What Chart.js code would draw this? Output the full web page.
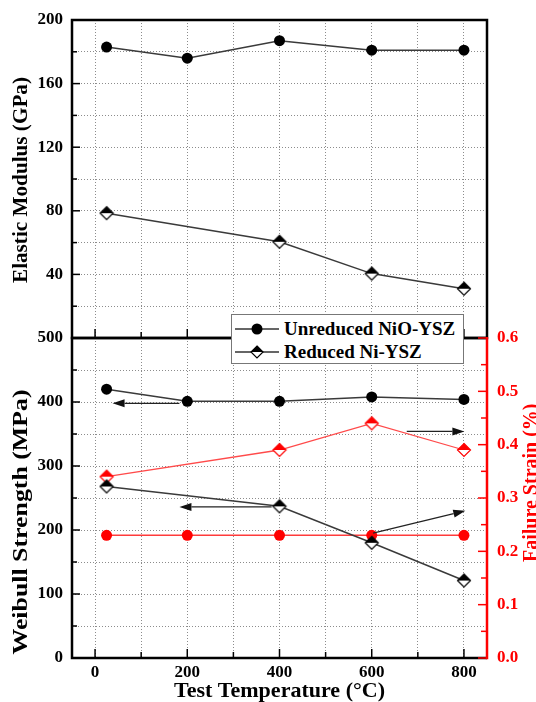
<!DOCTYPE html>
<html>
<head>
<meta charset="utf-8">
<script src="https://cdn.jsdelivr.net/npm/chart.js@4.4.1/dist/chart.umd.min.js"></script>
<style>
  body { margin: 0; background: #fff; }
  #wrap { position: relative; width: 536px; height: 702px; overflow: hidden; }
  #wrap canvas { position: absolute; left: 0; top: 0; }
  #legend {
    position: absolute; left: 231px; top: 314px; width: 231px; height: 48px;
    background: #fff; border: 1px solid #777;
    font: bold 19px "Liberation Serif", "Times New Roman", serif; color: #000;
    white-space: nowrap;
  }
  #legend .row { position: absolute; left: 3px; height: 24px; display: flex; align-items: center; }
  #legend svg { margin-right: 5px; flex: none; }
</style>
</head>
<body>
<div id="wrap">
  <canvas id="topChart" width="536" height="702"></canvas>
  <canvas id="bottomChart" width="536" height="702"></canvas>
  <div id="legend">
    <div class="row" style="top:2px">
      <svg width="44" height="14"><line x1="0" y1="7" x2="44" y2="7" stroke="#333" stroke-width="1.5"/><circle cx="22" cy="7" r="5.5" fill="#000"/></svg>
      <span>Unreduced NiO-YSZ</span>
    </div>
    <div class="row" style="top:25px">
      <svg width="44" height="16"><line x1="0" y1="8" x2="44" y2="8" stroke="#333" stroke-width="1.5"/><path d="M22 2 L28 8 L22 14 L16 8 Z" fill="#fff" stroke="#000" stroke-width="1.2"/><path d="M22 2 L28 8 L16 8 Z" fill="#000"/></svg>
      <span>Reduced Ni-YSZ</span>
    </div>
  </div>
</div>
<script>
// test temperatures (°C)
const temps = [25, 200, 400, 600, 800];
const tempsReduced = [25, 400, 600, 800];

// elastic modulus (GPa)
const modulusUnreduced = [183, 176, 187, 181, 181];
const modulusReduced = [78.5, 60.5, 40.5, 31];

// weibull strength (MPa)
const strengthUnreduced = [420, 401, 401, 408, 404];
const strengthReduced = [268, 237, 180, 121];

// failure strain (%)
const strainUnreduced = [0.23, 0.23, 0.23, 0.23, 0.23];
const strainReduced = [0.34, 0.39, 0.44, 0.39];

// tick positions and the ones that carry a label
const xTicks = [0, 100, 200, 300, 400, 500, 600, 700, 800];
const xLabels = [0, 200, 400, 600, 800];
const modulusLabels = [40, 80, 120, 160, 200];
const strengthLabels = [0, 100, 200, 300, 400, 500];
const strainLabels = [0, 0.1, 0.2, 0.3, 0.4, 0.5, 0.6];

// arrows in (temperature, strength) units: x1, y1 -> x2, y2
const arrows = [
  [183, 398, 38, 398],
  [383, 236, 183, 236],
  [676, 354, 801, 354],
  [603, 195, 803, 230]
];

const SERIF = '"Liberation Serif", "Times New Roman", serif';
Chart.defaults.font.family = SERIF;
Chart.defaults.font.weight = 'bold';
Chart.defaults.font.size = 17;
Chart.defaults.color = '#000';

const pts = (xs, ys) => xs.map((x, i) => ({ x: x, y: ys[i] }));
const hasLabel = (list, v) => list.some(l => Math.abs(l - v) < 1e-6);

function halfDiamond(color, r) {
  const c = document.createElement('canvas');
  const s = Math.ceil(2 * r + 3);
  c.width = s; c.height = s;
  const g = c.getContext('2d');
  const m = s / 2;
  g.beginPath();
  g.moveTo(m, m - r); g.lineTo(m + r, m); g.lineTo(m, m + r); g.lineTo(m - r, m); g.closePath();
  g.fillStyle = '#fff'; g.fill();
  g.beginPath();
  g.moveTo(m, m - r); g.lineTo(m + r, m); g.lineTo(m - r, m); g.closePath();
  g.fillStyle = color; g.fill();
  g.beginPath();
  g.moveTo(m, m - r); g.lineTo(m + r, m); g.lineTo(m, m + r); g.lineTo(m - r, m); g.closePath();
  g.lineWidth = 1.2; g.strokeStyle = color; g.stroke();
  return c;
}
const diamondBlack = halfDiamond('#000', 6.5);
const diamondRed = halfDiamond('#ff0000', 6.5);

// text along the axis, stretched to the length it has in the picture
function axisText(ctx, text, x, y, rot, len, color, size) {
  ctx.save();
  ctx.font = 'bold ' + size + 'px ' + SERIF;
  ctx.fillStyle = color;
  ctx.translate(x, y);
  ctx.rotate(rot);
  const w = ctx.measureText(text).width;
  if (len) ctx.scale(len / w, 1);
  ctx.textAlign = 'center';
  ctx.textBaseline = 'middle';
  ctx.fillText(text, 0, 0);
  ctx.restore();
}

function tickRun(ctx, from, to, step, major, toPx, draw) {
  for (let v = from; v <= to + 1e-9; v += step) {
    const isMajor = Math.abs(Math.round(v / major) * major - v) < 1e-6;
    draw(toPx(v), isMajor ? 8 : 5);
  }
}

const gridOpts = { color: '#8c8c8c', lineWidth: 1, drawTicks: false };
const borderOpts = { display: false, dash: [1, 2] };

const topFrame = {
  id: 'topFrame',
  afterDraw(chart) {
    const { ctx, chartArea: a, scales } = chart;
    ctx.save();
    ctx.strokeStyle = '#000';
    ctx.lineWidth = 1.5;
    tickRun(ctx, 0, 200, 20, 40, v => scales.y.getPixelForValue(v), (p, l) => {
      ctx.beginPath(); ctx.moveTo(a.left, p); ctx.lineTo(a.left + l, p); ctx.stroke();
    });
    tickRun(ctx, 0, 800, 100, 200, v => scales.x.getPixelForValue(v), (p, l) => {
      ctx.beginPath(); ctx.moveTo(p, a.bottom); ctx.lineTo(p, a.bottom - l - 1); ctx.stroke();
    });
    ctx.lineWidth = 2.5;
    ctx.strokeRect(a.left, a.top, a.right - a.left, a.bottom - a.top);
    ctx.restore();
    axisText(ctx, 'Elastic Modulus (GPa)', 22, 180, -Math.PI / 2, 206, '#000', 21);
  }
};

const bottomFrame = {
  id: 'bottomFrame',
  afterDatasetsDraw(chart) {
    const { ctx, scales } = chart;
    const x = scales.x, y = scales.y;
    ctx.save();
    ctx.strokeStyle = '#222';
    ctx.fillStyle = '#111';
    ctx.lineWidth = 1.2;
    arrows.forEach(([x1, y1, x2, y2]) => {
      const p1 = [x.getPixelForValue(x1), y.getPixelForValue(y1)];
      const p2 = [x.getPixelForValue(x2), y.getPixelForValue(y2)];
      const ang = Math.atan2(p2[1] - p1[1], p2[0] - p1[0]);
      const hl = 12, hw = 4;
      const bx = p2[0] - hl * Math.cos(ang), by = p2[1] - hl * Math.sin(ang);
      ctx.beginPath(); ctx.moveTo(p1[0], p1[1]); ctx.lineTo(bx, by); ctx.stroke();
      ctx.beginPath();
      ctx.moveTo(p2[0], p2[1]);
      ctx.lineTo(bx + hw * Math.sin(ang), by - hw * Math.cos(ang));
      ctx.lineTo(bx - hw * Math.sin(ang), by + hw * Math.cos(ang));
      ctx.closePath(); ctx.fill();
    });
    ctx.restore();
  },
  afterDraw(chart) {
    const { ctx, chartArea: a, scales } = chart;
    ctx.save();
    ctx.strokeStyle = '#000';
    ctx.lineWidth = 1.5;
    tickRun(ctx, 0, 500, 50, 100, v => scales.y.getPixelForValue(v), (p, l) => {
      ctx.beginPath(); ctx.moveTo(a.left, p); ctx.lineTo(a.left + l, p); ctx.stroke();
    });
    tickRun(ctx, 0, 800, 100, 200, v => scales.x.getPixelForValue(v), (p, l) => {
      ctx.beginPath(); ctx.moveTo(p, a.bottom); ctx.lineTo(p, a.bottom - l - 1); ctx.stroke();
    });
    ctx.lineWidth = 2.5;
    ctx.beginPath();
    ctx.moveTo(a.right, a.top); ctx.lineTo(a.left, a.top); ctx.lineTo(a.left, a.bottom); ctx.lineTo(a.right, a.bottom);
    ctx.stroke();
    ctx.strokeStyle = '#ff0000';
    ctx.lineWidth = 1.5;
    tickRun(ctx, 0, 0.6, 0.05, 0.1, v => scales.y1.getPixelForValue(v), (p, l) => {
      ctx.beginPath(); ctx.moveTo(a.right, p); ctx.lineTo(a.right - l - 1, p); ctx.stroke();
    });
    ctx.lineWidth = 2.5;
    ctx.beginPath(); ctx.moveTo(a.right, a.top - 1); ctx.lineTo(a.right, a.bottom + 1.2); ctx.stroke();
    ctx.restore();

    axisText(ctx, 'Weibull Strength (MPa)', 22, 522, -Math.PI / 2, 265, '#000', 21);
    axisText(ctx, 'Test Temperature (°C)', (a.left + a.right) / 2, 692, 0, 211, '#000', 21);
    ctx.save();
    ctx.font = 'bold 20px ' + SERIF;
    ctx.fillStyle = '#ff0000';
    ctx.translate(537, 562);
    ctx.rotate(-Math.PI / 2);
    ctx.textAlign = 'left';
    ctx.textBaseline = 'alphabetic';
    ctx.fillText('Failure Strain (%)', 0, 0);
    ctx.restore();
  }
};

const xScale = (showLabels, height) => ({
  type: 'linear', min: -50, max: 850,
  grid: gridOpts, border: borderOpts,
  afterBuildTicks: s => { s.ticks = xTicks.map(v => ({ value: v })); },
  ticks: {
    display: showLabels, autoSkip: false, maxRotation: 0, padding: 4,
    callback: v => (hasLabel(xLabels, v) ? String(v) : '')
  },
  afterFit: s => { s.height = height; }
});

const common = {
  responsive: false,
  animation: false,
  devicePixelRatio: 1,
  plugins: { legend: { display: false }, tooltip: { enabled: false } }
};

new Chart(document.getElementById('topChart'), {
  type: 'line',
  data: {
    datasets: [
      {
        data: pts(temps, modulusUnreduced), borderColor: '#3a3a3a', borderWidth: 1.5,
        pointStyle: 'circle', pointRadius: 5.5, pointBackgroundColor: '#000', pointBorderColor: '#000', pointBorderWidth: 0
      },
      {
        data: pts(tempsReduced, modulusReduced), borderColor: '#3a3a3a', borderWidth: 1.5,
        pointStyle: diamondBlack, pointRadius: 6.5
      }
    ]
  },
  options: Object.assign({}, common, {
    layout: { padding: { top: 20, right: 49, bottom: 702 - 338, left: 0 } },
    scales: {
      x: xScale(false, 0),
      y: {
        min: 0, max: 200,
        grid: gridOpts, border: borderOpts,
        ticks: { stepSize: 20, autoSkip: false, padding: 9, callback: v => (hasLabel(modulusLabels, v) ? String(v) : '') },
        afterFit: s => { s.width = 72; }
      }
    }
  }),
  plugins: [topFrame]
});

new Chart(document.getElementById('bottomChart'), {
  type: 'line',
  data: {
    datasets: [
      {
        data: pts(temps, strengthUnreduced), yAxisID: 'y', borderColor: '#3a3a3a', borderWidth: 1.5,
        pointStyle: 'circle', pointRadius: 5.5, pointBackgroundColor: '#000', pointBorderColor: '#000', pointBorderWidth: 0
      },
      {
        data: pts(tempsReduced, strengthReduced), yAxisID: 'y', borderColor: '#3a3a3a', borderWidth: 1.5,
        pointStyle: diamondBlack, pointRadius: 6.5
      },
      {
        data: pts(temps, strainUnreduced), yAxisID: 'y1', borderColor: '#ff3b3b', borderWidth: 1.5,
        pointStyle: 'circle', pointRadius: 5.5, pointBackgroundColor: '#ff0000', pointBorderColor: '#ff0000', pointBorderWidth: 0
      },
      {
        data: pts(tempsReduced, strainReduced), yAxisID: 'y1', borderColor: '#ff4a4a', borderWidth: 1.3,
        pointStyle: diamondRed, pointRadius: 6.5
      }
    ]
  },
  options: Object.assign({}, common, {
    layout: { padding: { top: 338, right: 0, bottom: 0, left: 0 } },
    scales: {
      x: xScale(true, 702 - 658),
      y: {
        position: 'left', min: 0, max: 500,
        grid: gridOpts, border: borderOpts,
        ticks: { stepSize: 50, autoSkip: false, padding: 9, callback: v => (hasLabel(strengthLabels, v) ? String(v) : '') },
        afterFit: s => { s.width = 72; }
      },
      y1: {
        position: 'right', min: 0, max: 0.6,
        grid: { display: false, drawTicks: false }, border: { display: false },
        ticks: {
          stepSize: 0.05, autoSkip: false, padding: 10, color: '#ff0000',
          callback: v => (hasLabel(strainLabels, v) ? v.toFixed(1) : '')
        },
        afterFit: s => { s.width = 536 - 487; }
      }
    }
  }),
  plugins: [bottomFrame]
});
</script>
</body>
</html>
